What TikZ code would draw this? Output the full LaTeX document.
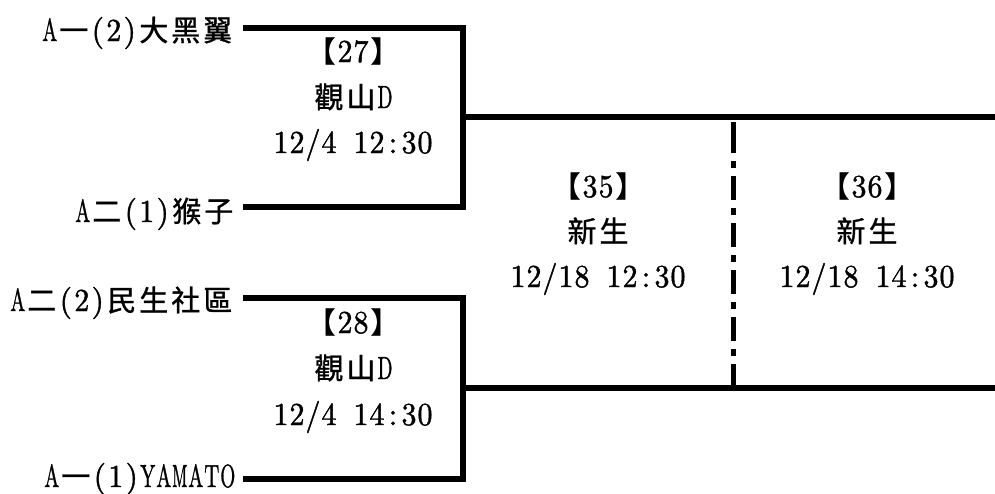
\documentclass[tikz,border=0pt]{standalone}
\usepackage{fontspec}
\usepackage{graphicx}
\newfontfamily\cjkf{Noto Sans CJK TC}[FakeBold=1.1]
\newfontfamily\latf{lmroman10-regular.otf}[FakeBold=1.3]
\newsavebox\hwbox
\newcommand\hw[1]{\sbox\hwbox{\latf #1}\ifdim\wd\hwbox>15pt\relax\makebox[16pt]{\resizebox{15pt}{\height}{\latf #1}}\else\makebox[16pt]{\latf #1}\fi}
\newcommand\fw[1]{\makebox[32pt]{\cjkf\fontsize{29}{32}\selectfont #1}}
\def\monoloop#1{\ifx#1\relax\else\hw{#1}\expandafter\monoloop\fi}
\newcommand\hwtext[1]{\monoloop#1\relax}
\def\cjkloop#1{\ifx#1\relax\else\fw{#1}\expandafter\cjkloop\fi}
\newcommand\fwtext[1]{\cjkloop#1\relax}
\tikzset{
  txt/.style={inner sep=0pt, font=\latf\fontsize{32}{36}\selectfont},
  team/.style={txt, anchor=base east},
  info/.style={txt, anchor=base},
  br/.style={line width=5.5pt, line join=miter},
  divider/.style={line width=5pt, dash pattern=on 31pt off 8pt on 7pt off 8pt on 24pt off 8pt on 7pt off 8pt on 24pt off 8pt on 7pt off 8pt on 24pt off 8pt on 7pt off 8pt on 24pt off 8pt on 7pt off 8pt on 24pt off 8pt}
}
\begin{document}
\begin{tikzpicture}[x=1pt,y=-1pt]
\useasboundingbox (0,0) rectangle (995,493);
% team labels
\node[team] (t1) at (234,41) {\hwtext{A}\fwtext{一}\hwtext{(2)}\fwtext{大黑翼}};
\node[team] (t2) at (235,222) {\hwtext{A}\fwtext{二}\hwtext{(1)}\fwtext{猴子}};
\node[team] (t3) at (234,311) {\hwtext{A}\fwtext{二}\hwtext{(2)}\fwtext{民生社區}};
\node[team] (t4) at (236,487) {\hwtext{A}\fwtext{一}\hwtext{(1)YAMATO}};
% bracket points
\coordinate (a1) at (243,28);
\coordinate (a2) at (243,207);
\coordinate (c2) at (463,207);
\coordinate (m1) at (463,117);
\coordinate (e1) at (995,117);
\coordinate (a3) at (243,298);
\coordinate (a4) at (243,479);
\coordinate (c4) at (463,479);
\coordinate (m2) at (463,388);
\coordinate (e2) at (995,388);
\coordinate (d1) at (733,122);
\coordinate (d2) at (733,388);
\draw[br] (a1) -| (c2) -- (a2);
\draw[br] (m1) -- (e1);
\draw[br] (a3) -| (c4) -- (a4);
\draw[br] (m2) -- (e2);
\draw[divider] (d1) -- (d2);
% match 27
\node[info] (g27) at (353,62) {\fwtext{【}\hwtext{27}\fwtext{】}};
\node[info] (v27) at (353,108) {\fwtext{觀山}\hwtext{D}};
\node[info] (d27) at (353,153) {\hwtext{12/4~12:30}};
% match 28
\node[info] (g28) at (353,333) {\fwtext{【}\hwtext{28}\fwtext{】}};
\node[info] (v28) at (353,379) {\fwtext{觀山}\hwtext{D}};
\node[info] (d28) at (353,425) {\hwtext{12/4~14:30}};
% match 35
\node[info] (g35) at (598,197) {\fwtext{【}\hwtext{35}\fwtext{】}};
\node[info] (v35) at (598,242) {\fwtext{新生}};
\node[info] (d35) at (598,287) {\hwtext{12/18~12:30}};
% match 36
\node[info] (g36) at (867,197) {\fwtext{【}\hwtext{36}\fwtext{】}};
\node[info] (v36) at (867,242) {\fwtext{新生}};
\node[info] (d36) at (867,287) {\hwtext{12/18~14:30}};
\end{tikzpicture}
\end{document}
